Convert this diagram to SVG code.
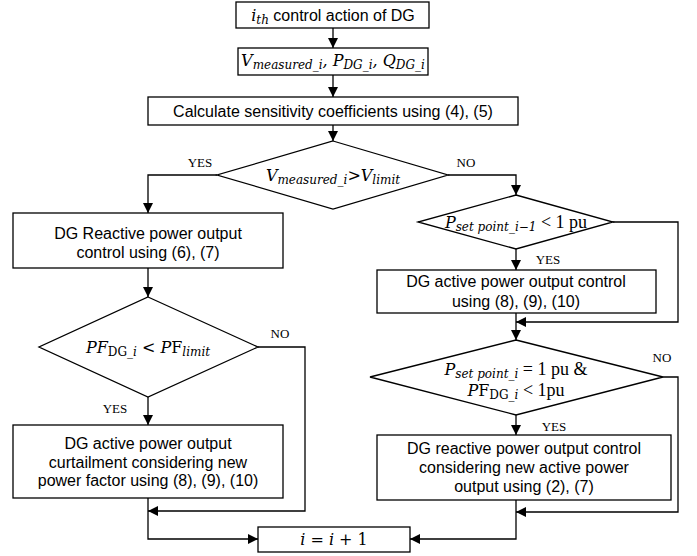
<svg xmlns="http://www.w3.org/2000/svg" width="697" height="556" viewBox="0 0 697 556">
<defs>
<marker id="a" viewBox="0 0 10 10" refX="10" refY="5" markerWidth="10" markerHeight="10" markerUnits="userSpaceOnUse" orient="auto"><path d="M0,0 L10,5 L0,10 z" fill="#000"/></marker>
<style>
.b{fill:#fff;stroke:#000;stroke-width:1.3}
.t{font-family:"Liberation Sans",Arial,sans-serif;font-size:16px;text-anchor:middle;fill:#000}
.m{font-family:"DejaVu Serif","Liberation Serif",serif;font-style:italic;font-size:16px;text-anchor:middle;fill:#000}
.u{font-style:normal}
.s{font-size:12px}
.l{font-family:"Liberation Serif","Times New Roman",serif;font-size:13px;text-anchor:middle;fill:#000}
.c{fill:none;stroke:#000;stroke-width:1.3}
</style>
</defs>
<rect width="697" height="556" fill="#fff"/>
<g id="connectors">
<path class="c" d="M333,28 V48" marker-end="url(#a)"/>
<path class="c" d="M333,75 V97" marker-end="url(#a)"/>
<path class="c" d="M333,125 V141" marker-end="url(#a)"/>
<path class="c" d="M217,175 H148 V213" marker-end="url(#a)"/>
<path class="c" d="M448,175 H516 V195" marker-end="url(#a)"/>
<path class="c" d="M148,268 V297" marker-end="url(#a)"/>
<path class="c" d="M258,347 H305 V511 H148" marker-end="url(#a)"/>
<path class="c" d="M148,397 V425" marker-end="url(#a)"/>
<path class="c" d="M148,498 V539 H258" marker-end="url(#a)"/>
<path class="c" d="M516,249 V270" marker-end="url(#a)"/>
<path class="c" d="M613,222 H678 V322 H516" marker-end="url(#a)"/>
<path class="c" d="M516,313 V340" marker-end="url(#a)"/>
<path class="c" d="M663,377 H678 V512 H516" marker-end="url(#a)"/>
<path class="c" d="M516,415 V435" marker-end="url(#a)"/>
<path class="c" d="M516,500 V539 H410" marker-end="url(#a)"/>
<text class="l" x="200" y="167">YES</text>
<text class="l" x="466" y="167">NO</text>
<text class="l" x="548" y="264">YES</text>
<text class="l" x="280" y="338">NO</text>
<text class="l" x="115" y="413">YES</text>
<text class="l" x="662" y="362">NO</text>
<text class="l" x="554" y="431">YES</text>
</g>
<g id="start">
<rect class="b" x="236" y="2" width="193" height="26"/>
<text class="t" x="333" y="21"><tspan font-family="DejaVu Serif,serif" font-style="italic" font-size="16">i</tspan><tspan font-family="DejaVu Serif,serif" font-style="italic" font-size="12" dy="3">th</tspan><tspan dy="-3"> control action of DG</tspan></text>
</g>
<g id="measure">
<rect class="b" x="238" y="48" width="190" height="27"/>
<text class="m" x="333" y="66">V<tspan class="s" dy="3">measured_i</tspan><tspan dy="-3">, P</tspan><tspan class="s" dy="3">DG_i</tspan><tspan dy="-3">, Q</tspan><tspan class="s" dy="3">DG_i</tspan></text>
</g>
<g id="sensitivity">
<rect class="b" x="148" y="97" width="370" height="28"/>
<text class="t" x="333" y="117" font-size="17.5">Calculate sensitivity coefficients using (4), (5)</text>
</g>
<g id="dec1">
<polygon class="b" points="333,141 448,175 333,209 217,175"/>
<text class="m" x="333" y="181">V<tspan class="s" dy="3">measured_i</tspan><tspan dy="-3" class="u">&gt;</tspan>V<tspan class="s" dy="3">limit</tspan></text>
</g>
<g id="reactive">
<rect class="b" x="13" y="213" width="270" height="55"/>
<text class="t" x="148" y="239">DG Reactive power output</text>
<text class="t" x="148" y="258">control using (6), (7)</text>
</g>
<g id="dec2">
<polygon class="b" points="516,195 613,222 516,249 418,222"/>
<text class="m" x="516" y="228">P<tspan class="s" dy="3">set point_i−1</tspan><tspan dy="-3" class="u" font-family="Liberation Serif,serif" font-size="18"> &lt; 1 pu</tspan></text>
</g>
<g id="active">
<rect class="b" x="377" y="270" width="279" height="43"/>
<text class="t" x="516" y="287">DG active power output control</text>
<text class="t" x="516" y="307">using (8), (9), (10)</text>
</g>
<g id="dec3">
<polygon class="b" points="148,297 258,347 148,397 39,347"/>
<text class="m" x="148" y="353">PF<tspan class="s u" dy="3">DG_</tspan><tspan class="s">i</tspan><tspan dy="-3" class="u"> &lt; </tspan>P<tspan class="u">F</tspan><tspan class="s" dy="3">limit</tspan></text>
</g>
<g id="curtail">
<rect class="b" x="13" y="425" width="270" height="73"/>
<text class="t" x="148" y="449">DG active power output</text>
<text class="t" x="148" y="468">curtailment considering new</text>
<text class="t" x="148" y="486">power factor using (8), (9), (10)</text>
</g>
<g id="dec4">
<polygon class="b" points="516,340 663,377 516,415 370,377"/>
<text class="m" x="516" y="375">P<tspan class="s" dy="3">set point_i</tspan><tspan dy="-3" class="u" font-family="Liberation Serif,serif" font-size="18"> = 1 pu &amp;</tspan></text>
<text class="m" x="516" y="396">P<tspan class="u">F</tspan><tspan class="s u" dy="3">DG_</tspan><tspan class="s">i</tspan><tspan dy="-3" class="u" font-family="Liberation Serif,serif" font-size="18"> &lt; 1pu</tspan></text>
</g>
<g id="reactive2">
<rect class="b" x="377" y="435" width="294" height="65"/>
<text class="t" x="524" y="454">DG reactive power output control</text>
<text class="t" x="524" y="473">considering new active power</text>
<text class="t" x="524" y="492">output using (2), (7)</text>
</g>
<g id="increment">
<rect class="b" x="258" y="527" width="152" height="25"/>
<text class="m" x="334" y="545">i <tspan class="u">=</tspan> i <tspan class="u">+ 1</tspan></text>
</g>
</svg>
